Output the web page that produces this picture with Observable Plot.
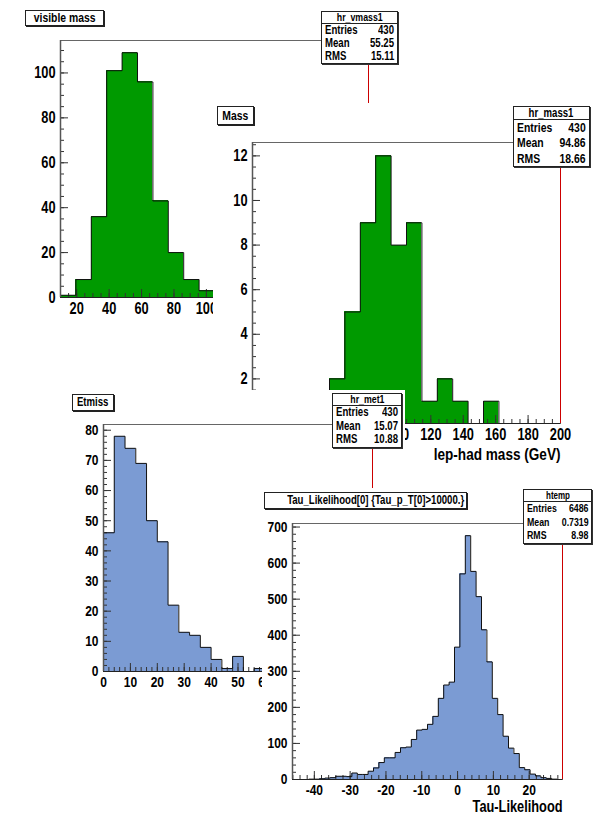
<!DOCTYPE html>
<html>
<head>
<meta charset="utf-8">
<script src="https://cdn.jsdelivr.net/npm/d3@7"></script>
<script src="https://cdn.jsdelivr.net/npm/@observablehq/plot@0.6"></script>
<style>
  html, body { margin: 0; padding: 0; background: #fff; }
  #canvas { position: relative; width: 598px; height: 814px; overflow: hidden; background: #fff; }
  .pad { position: absolute; background: #fff; overflow: hidden; }
  .pad svg { position: absolute; left: 0; top: 0; display: block; }
  .tbox { position: absolute; box-sizing: border-box; border: 1px solid #222; background: #fff;
          box-shadow: 1px 1px 0 #222; font-weight: bold; color: #000; text-align: center; white-space: nowrap; }
  .sbox { position: absolute; box-sizing: border-box; border: 1px solid #222; background: #fff;
          box-shadow: 1px 1px 0 #333; font-weight: bold; color: #000; white-space: nowrap; }
  .sbox .hd { text-align: center; border-bottom: 1px solid #222; font-weight: bold; overflow: hidden; }
  .sbox .row { display: flex; justify-content: space-between; padding: 0 3px; }
  .nx { display: inline-block; }
</style>
</head>
<body>
<div id="canvas"></div>
<script>
// ---------------- data ----------------
const vmassRange = [10, 200];
const vmassCounts = [1, 8, 36, 101, 109, 96, 43, 20, 8, 3, 2, 2, 1, 0, 0, 0, 0, 0, 0, 0];
const vmassXTicks = [20, 40, 60, 80, 100, 120, 140, 160, 180, 200];
const vmassXLabels = [20, 40, 60, 80, 100];
const vmassYTicks = [0, 20, 40, 60, 80, 100];

const massRange = [10, 200];
const massCounts = [0, 0, 0, 1, 1, 2, 5, 9, 12, 8, 9, 1, 2, 1, 0, 1, 0, 0, 0, 0];
const massXTicks = [20, 40, 60, 80, 100, 120, 140, 160, 180, 200];
const massXLabels = [100, 120, 140, 160, 180, 200];
const massYTicks = [0, 2, 4, 6, 8, 10, 12];
const massYLabels = [2, 4, 6, 8, 10, 12];

const etmissRange = [0, 100];
const etmissCounts = [46, 78, 74, 69, 50, 43, 22, 13, 12, 8, 4, 1, 5, 0, 1, 1, 0, 1, 0, 1, 0, 0, 0, 0, 0];
const etmissXTicks = [0, 10, 20, 30, 40, 50, 60, 70, 80, 90, 100];
const etmissXLabels = [0, 10, 20, 30, 40, 50, 60];
const etmissYTicks = [0, 10, 20, 30, 40, 50, 60, 70, 80];

const tauRange = [-46.1, 29.3];
const tauCounts = [0, 0, 0, 1, 1, 2, 4, 5, 9, 9, 8, 18, 14, 14, 23, 32, 47, 60, 60, 75,
                   88, 90, 111, 137, 139, 153, 175, 225, 262, 270, 367, 570, 676, 577, 507, 415, 326, 225, 180, 120,
                   87, 72, 33, 27, 15, 10, 5, 3, 1, 0];
const tauXTicks = [-40, -30, -20, -10, 0, 10, 20];
const tauYTicks = [0, 100, 200, 300, 400, 500, 600, 700];

const titles = ["visible mass", "Mass", "Etmiss", "Tau_Likelihood[0] {Tau_p_T[0]>10000.}"];
const statNames = ["hr_vmass1", "hr_mass1", "hr_met1", "htemp"];
const statEntries = ["430", "430", "430", "6486"];
const statMeans = ["55.25", "94.86", "15.07", "0.7319"];
const statRMS = ["15.11", "18.66", "10.88", "8.98"];
const xTitles = [null, "lep-had mass (GeV)", null, "Tau-Likelihood"];

const GREEN = "#009a00";
const BLUE = "#7b9bd3";
const FONT = '"Liberation Sans", Arial, Helvetica, sans-serif';
const SX = 0.8; // horizontal squeeze to mimic the narrow ROOT font

// ---------------- helpers ----------------
const canvas = document.getElementById("canvas");

function squeezeSvgText(svg) {
  svg.querySelectorAll("text").forEach(t => {
    const x = parseFloat(t.getAttribute("x"));
    const cx = isFinite(x) ? x : 0;
    const tr = t.getAttribute("transform") || "";
    t.setAttribute("transform", `${tr} translate(${cx},0) scale(${SX},1) translate(${-cx},0)`.trim());
  });
}

function nx(text, origin) {
  const s = document.createElement("span");
  s.className = "nx";
  s.style.transform = `scaleX(${SX})`;
  s.style.transformOrigin = origin;
  s.textContent = text;
  return s;
}

function histPad(cfg) {
  const {left, top, width, height, frame, range, counts, color, xTicks, xLabels, yTicks, yLabels,
         xMinorStep, yMinorStep, fontSize, xTitle, xTitleSize, xTitleDy} = cfg;
  const pad = document.createElement("div");
  pad.className = "pad";
  Object.assign(pad.style, {left: left + "px", top: top + "px", width: width + "px", height: height + "px"});
  canvas.appendChild(pad);

  const [lo, hi] = range;
  const n = counts.length;
  const w = (hi - lo) / n;
  const bins = counts.map((c, i) => ({x1: lo + i * w, x2: lo + (i + 1) * w, y: c}));
  const outline = [{x: lo, y: 0}, ...bins.map(b => ({x: b.x1, y: b.y})), {x: hi, y: counts[n - 1]}, {x: hi, y: 0}];
  const yMax = d3.max(counts) * 1.05;
  const fw = frame.r - frame.l, fh = frame.b - frame.t;
  const xMinor = d3.range(Math.ceil(lo / xMinorStep) * xMinorStep, hi + 1e-9, xMinorStep);
  const yMinor = d3.range(0, yMax, yMinorStep);
  const xMaj = xTicks.filter(v => v >= lo && v <= hi);
  const yMaj = yTicks.filter(v => v <= yMax);

  const marks = [
    Plot.rectY(bins, {x1: "x1", x2: "x2", y: "y", fill: color, shapeRendering: "crispEdges"}),
    Plot.tickY(yMinor, {y: d => d, insetRight: fw - 4, stroke: "#333"}),
    Plot.tickY(yMaj, {y: d => d, insetRight: fw - 8, stroke: "#333"}),
    Plot.tickX(xMinor, {x: d => d, insetTop: fh - 4, stroke: "#333"}),
    Plot.tickX(xMaj, {x: d => d, insetTop: fh - 8, stroke: "#333"}),
    Plot.line(outline, {x: "x", y: "y", curve: "step-after", stroke: "#111", strokeWidth: 1}),
    Plot.ruleY([yMax], {stroke: "#666"}),
    Plot.ruleX([hi], {stroke: "#cc0000"}),
    Plot.ruleX([lo], {stroke: "#555", strokeWidth: 1.5}),
    Plot.ruleY([0], {stroke: "#222"}),
    Plot.axisX(xLabels || xMaj, {tickSize: 0, tickPadding: 5, tickFormat: d => String(d), label: null}),
    Plot.axisY(yLabels || yMaj, {tickSize: 0, tickPadding: 5, tickFormat: d => String(d), label: null})
  ];
  if (xTitle) {
    marks.push(Plot.text([xTitle], {frameAnchor: "bottom-right", textAnchor: "end", lineAnchor: "bottom",
      dy: xTitleDy, fontSize: xTitleSize, fontWeight: "bold"}));
  }
  const svg = Plot.plot({
    width, height,
    marginLeft: frame.l - left, marginTop: frame.t - top,
    marginRight: left + width - frame.r, marginBottom: top + height - frame.b,
    x: {domain: [lo, hi]},
    y: {domain: [0, yMax]},
    style: {fontFamily: FONT, fontSize: fontSize + "px", fontWeight: "bold", background: "transparent", color: "#000", overflow: "visible"},
    marks
  });
  squeezeSvgText(svg);
  pad.appendChild(svg);
  return pad;
}

function titleBox(pad, p, b, text, fs) {
  const d = document.createElement("div");
  d.className = "tbox";
  Object.assign(d.style, {left: (b.x - p.left) + "px", top: (b.y - p.top) + "px", width: b.w + "px", height: b.h + "px",
    fontFamily: FONT, fontSize: fs + "px", lineHeight: (b.h - 2) + "px"});
  d.appendChild(nx(text, "center"));
  pad.appendChild(d);
}

function statBox(pad, p, b, i, fs, hdH, hdFs) {
  const d = document.createElement("div");
  d.className = "sbox";
  Object.assign(d.style, {left: (b.x - p.left) + "px", top: (b.y - p.top) + "px", width: b.w + "px", height: b.h + "px",
    fontFamily: FONT, fontSize: fs + "px"});
  const rowH = (b.h - 2 - hdH) / 3;
  const hd = document.createElement("div");
  hd.className = "hd";
  hd.style.height = (hdH - 1) + "px";
  hd.style.lineHeight = (hdH - 1) + "px";
  hd.style.fontSize = hdFs + "px";
  hd.appendChild(nx(statNames[i], "center"));
  d.appendChild(hd);
  [["Entries", statEntries[i]], ["Mean", statMeans[i]], ["RMS", statRMS[i]]].forEach(([k, v]) => {
    const r = document.createElement("div");
    r.className = "row";
    r.style.height = rowH + "px";
    r.style.lineHeight = rowH + "px";
    r.appendChild(nx(k, "left"));
    r.appendChild(nx(v, "right"));
    d.appendChild(r);
  });
  pad.appendChild(d);
}

// ---------------- pads ----------------
const p1 = {left: 0, top: 0, width: 405, height: 390};
const pad1 = histPad({...p1, frame: {l: 60, t: 40, r: 368, b: 297}, range: vmassRange, counts: vmassCounts, color: GREEN,
  xTicks: vmassXTicks, xLabels: vmassXLabels, yTicks: vmassYTicks, xMinorStep: 5, yMinorStep: 5, fontSize: 16});
titleBox(pad1, p1, {x: 25, y: 10, w: 79, h: 16}, titles[0], 13);
statBox(pad1, p1, {x: 321, y: 11, w: 77, h: 53}, 0, 12, 12, 11);

const p2 = {left: 213, top: 103, width: 385, height: 367};
const pad2 = histPad({...p2, frame: {l: 252, t: 142, r: 560, b: 423}, range: massRange, counts: massCounts, color: GREEN,
  xTicks: massXTicks, xLabels: massXLabels, yTicks: massYTicks, yLabels: massYLabels, xMinorStep: 5, yMinorStep: 0.5, fontSize: 16,
  xTitle: xTitles[1], xTitleSize: 17, xTitleDy: 36});
titleBox(pad2, p2, {x: 217, y: 106, w: 37, h: 19}, titles[1], 13);
statBox(pad2, p2, {x: 513, y: 106, w: 77, h: 61}, 1, 13, 13, 12);

const p3 = {left: 0, top: 390, width: 405, height: 320};
const pad3 = histPad({...p3, frame: {l: 103, t: 424, r: 372, b: 671}, range: etmissRange, counts: etmissCounts, color: BLUE,
  xTicks: etmissXTicks, xLabels: etmissXLabels, yTicks: etmissYTicks, xMinorStep: 2, yMinorStep: 2, fontSize: 15});
titleBox(pad3, p3, {x: 72, y: 394, w: 42, h: 17}, titles[2], 12);
statBox(pad3, p3, {x: 332, y: 393, w: 70, h: 55}, 2, 12, 12, 11);

const p4 = {left: 262, top: 488, width: 336, height: 326};
const pad4 = histPad({...p4, frame: {l: 292, t: 523, r: 562, b: 779}, range: tauRange, counts: tauCounts, color: BLUE,
  xTicks: tauXTicks, yTicks: tauYTicks, xMinorStep: 2, yMinorStep: 20, fontSize: 15,
  xTitle: xTitles[3], xTitleSize: 16, xTitleDy: 32});
titleBox(pad4, p4, {x: 264, y: 492, w: 203, h: 17}, titles[3], 12);
statBox(pad4, p4, {x: 523, y: 489, w: 69, h: 55}, 3, 11, 12, 10);
</script>
</body>
</html>
